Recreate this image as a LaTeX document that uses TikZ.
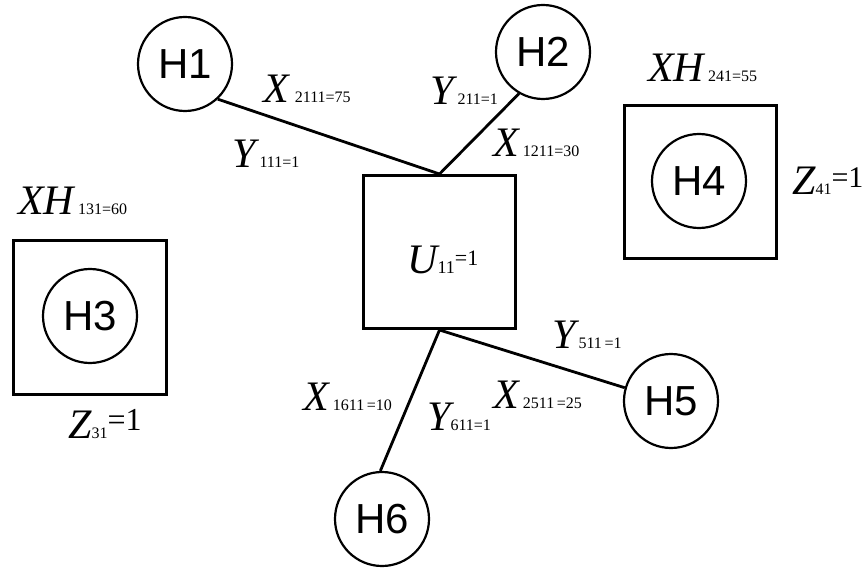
\documentclass[tikz,border=0pt]{standalone}
\usepackage{fontspec}
\setmainfont{Liberation Serif}
\newfontfamily\hfont{Liberation Sans}
\newcommand\bigit[1]{{\fontsize{42}{42}\selectfont\itshape #1}}
\newcommand\subs[1]{{\fontsize{16}{16}\selectfont #1}}
\tikzset{
  hnode/.style={circle, draw, line width=2.2pt, minimum size=94pt, inner sep=0pt,
    font=\hfont\fontsize{42}{42}\selectfont},
  boxnode/.style={draw, line width=3pt, inner sep=0pt},
  conn/.style={line width=2.8pt},
  lbl/.style={anchor=base west, inner sep=0pt},
}
\begin{document}
\begin{tikzpicture}[x=1pt,y=-1pt]
\useasboundingbox (0,0) rectangle (864,569);
% boxes
\node[boxnode, minimum width=152pt, minimum height=153pt] (U) at (439.5,252) {};
\node[boxnode, minimum width=153pt, minimum height=154pt] (B3) at (90,317.5) {};
\node[boxnode, minimum width=152pt, minimum height=153pt] (B4) at (700.5,182) {};
% circles
\node[hnode] (H1) at (185,64) {H1};
\node[hnode] (H2) at (543,52) {H2};
\node[hnode] (H3) at (90,316) {H3};
\node[hnode] (H4) at (699,181) {H4};
\node[hnode] (H5) at (671,401) {H5};
\node[hnode] (H6) at (382,519) {H6};
% connectors
\draw[conn] (H1.-47) -- (U.north);
\draw[conn] (H2.240) -- (U.north);
\draw[conn] (U.south) -- (H5.164);
\draw[conn] (U.south) -- (H6.92);
% labels
\node[lbl] (l1) at (263,103) {\bigit{X}\hspace{6pt}\subs{2111=75}};
\node[lbl] (l2) at (232,168) {\bigit{Y}\hspace{4pt}\subs{111=1}};
\node[lbl] (l3) at (430,105) {\bigit{Y}\hspace{4pt}\subs{211=1}};
\node[lbl] (l4) at (493,157) {\bigit{X}\hspace{4pt}\subs{1211=30}};
\node[lbl] (l5) at (648,82) {\bigit{XH}\hspace{4pt}\subs{241=55}};
\node[lbl] (l6) at (792,195) {\bigit{Z}\subs{41}\raisebox{7pt}{\fontsize{30}{30}\selectfont=1}};
\node[lbl] (l7) at (18,215) {\bigit{XH}\hspace{4pt}\subs{131=60}};
\node[lbl] (l8) at (68,438) {\bigit{Z}\subs{31}\raisebox{8pt}{\fontsize{32}{32}\selectfont=1}};
\node[lbl] (l9) at (407,273) {\bigit{U}{\fontsize{18}{18}\selectfont 11}\raisebox{8pt}{\fontsize{22}{22}\selectfont=1}};
\node[lbl] (l10) at (552,348) {\bigit{Y}\hspace{3pt}\subs{511\,=1}};
\node[lbl] (l11) at (303,410) {\bigit{X}\hspace{4pt}\subs{1611\,=10}};
\node[lbl] (l12) at (427,430) {\bigit{Y}\subs{611=1}};
\node[lbl] (l13) at (493,408) {\bigit{X}\hspace{4pt}\subs{2511\,=25}};
\end{tikzpicture}
\end{document}
